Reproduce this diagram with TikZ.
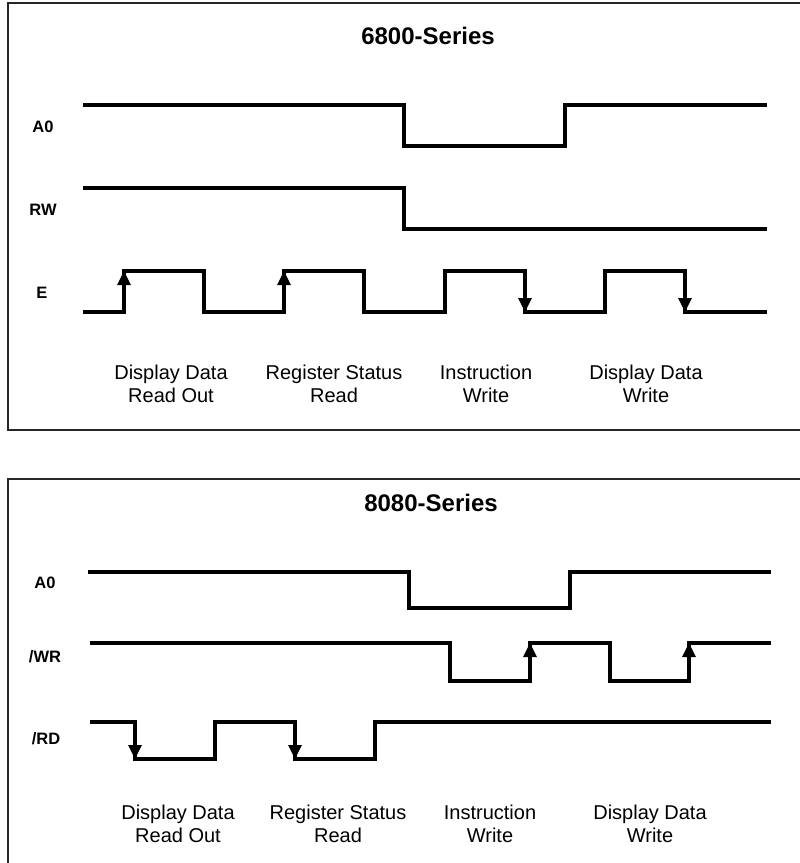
\documentclass[tikz,border=0pt]{standalone}
\usepackage{fontspec}
\setmainfont{Liberation Sans}
\usetikzlibrary{arrows.meta}
\tikzset{
  wave/.style={line width=3.2pt, line join=miter},
  edgearrow/.style={wave, -{Triangle[length=14pt,width=13pt]}},
  frame/.style={line width=1.8pt, draw=black!85},
  signame/.style={font=\fontsize{16.5}{19}\bfseries\selectfont},
  seriestitle/.style={font=\fontsize{24}{28}\bfseries\selectfont},
  cyclelabel/.style={font=\fontsize{20}{23}\selectfont, align=center},
}

\begin{document}
\begin{tikzpicture}[x=1pt, y=-1pt]
\useasboundingbox (0,0) rectangle (800,863);

% Frames (open to the right / bottom)
\draw[frame] (800,3) -- (8,3) -- (8,430) -- (800,430);
\draw[frame] (800,479) -- (8,479) -- (8,863);

% ---------------- 6800-Series ----------------
\node[seriestitle] (title68) at (428,36) {6800-Series};

\node[signame] (a068) at (43,127) {A0};
\node[signame] (rw68) at (43,210) {RW};
\node[signame] (e68)  at (42,293) {E};

% A0
\draw[wave] (83,105) -- (404,105) -- (404,146) -- (565,146) -- (565,105) -- (767,105);
% RW
\draw[wave] (83,188) -- (404,188) -- (404,229) -- (767,229);
% E
\draw[wave] (83,312) -- (124,312) -- (124,271) -- (204,271) -- (204,312)
  -- (284,312) -- (284,271) -- (364,271) -- (364,312) -- (445,312)
  -- (445,271) -- (525,271) -- (525,312) -- (605,312) -- (605,271)
  -- (685,271) -- (685,312) -- (767,312);
\draw[edgearrow] (124,300) -- (124,271);
\draw[edgearrow] (284,300) -- (284,271);
\draw[edgearrow] (525,283) -- (525,312);
\draw[edgearrow] (685,283) -- (685,312);

% Cycle labels
\node[cyclelabel] (c68a) at (171,384) {Display Data\\Read Out};
\node[cyclelabel] (c68b) at (334,384) {Register Status\\Read};
\node[cyclelabel] (c68c) at (486,384) {Instruction\\Write};
\node[cyclelabel] (c68d) at (646,384) {Display Data\\Write};

% ---------------- 8080-Series ----------------
\node[seriestitle] (title80) at (431,503) {8080-Series};

\node[signame] (a080) at (45,583) {A0};
\node[signame] (wr80) at (45,657) {/WR};
\node[signame] (rd80) at (46,739) {/RD};

% A0
\draw[wave] (88,572) -- (409,572) -- (409,608) -- (570,608) -- (570,572) -- (771,572);
% /WR
\draw[wave] (90,643) -- (450,643) -- (450,681) -- (530,681) -- (530,643)
  -- (610,643) -- (610,681) -- (689,681) -- (689,643) -- (771,643);
\draw[edgearrow] (530,670) -- (530,643);
\draw[edgearrow] (689,670) -- (689,643);
% /RD
\draw[wave] (90,722) -- (135,722) -- (135,759) -- (215,759) -- (215,722)
  -- (295,722) -- (295,759) -- (375,759) -- (375,722) -- (771,722);
\draw[edgearrow] (135,732) -- (135,759);
\draw[edgearrow] (295,732) -- (295,759);

% Cycle labels
\node[cyclelabel] (c80a) at (178,824) {Display Data\\Read Out};
\node[cyclelabel] (c80b) at (338,824) {Register Status\\Read};
\node[cyclelabel] (c80c) at (490,824) {Instruction\\Write};
\node[cyclelabel] (c80d) at (650,824) {Display Data\\Write};
\end{tikzpicture}
\end{document}
